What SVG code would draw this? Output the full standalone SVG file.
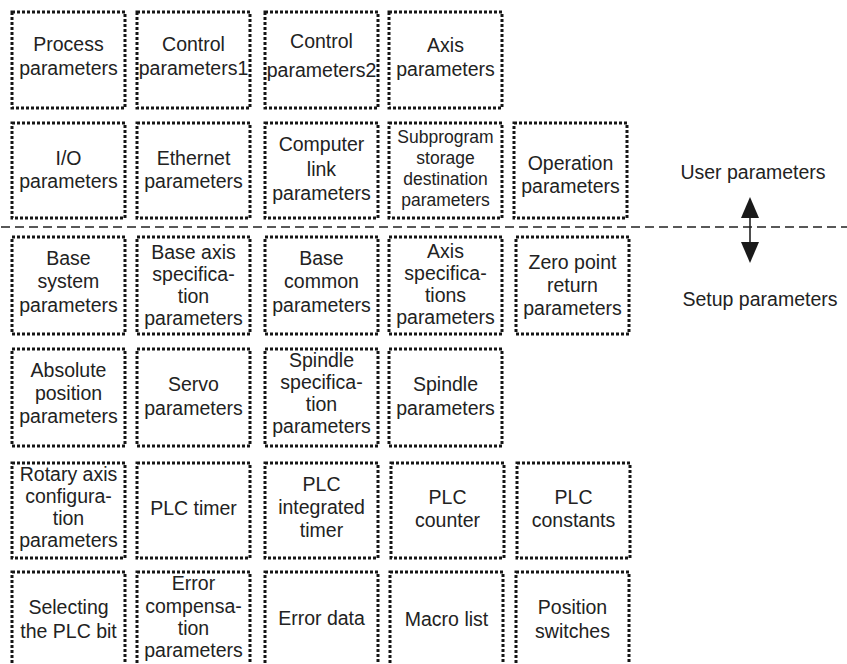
<svg xmlns="http://www.w3.org/2000/svg" width="847" height="664" viewBox="0 0 847 664">
<style>
.box{fill:#fff;stroke:#151515;stroke-width:3;stroke-dasharray:3 2}
.t{font-family:"Liberation Sans",Arial,sans-serif;font-size:19.5px;fill:#222;text-anchor:middle}
.s{font-size:17.5px}
.sep{stroke:#222;stroke-width:1.6;stroke-dasharray:9 5;fill:none}
.ax{stroke:#222;stroke-width:1.6;fill:none}
.head{fill:#1a1a1a}
</style>
<rect width="847" height="664" fill="#fff"/>
<g id="connectors">
<line class="sep" x1="1" y1="227" x2="847" y2="227"/>
<line class="ax" x1="750" y1="214" x2="750" y2="246"/>
<polygon class="head" points="750,197 741,218 759,218"/>
<polygon class="head" points="741,242 759,242 750,263"/>
</g>
<g id="user-label"><text class="t" x="753" y="179">User parameters</text></g>
<g id="setup-label"><text class="t" x="760" y="306">Setup parameters</text></g>

<g id="n-process"><rect class="box" x="12" y="12" width="113" height="96"/><text class="t" x="68.5" y="51">Process<tspan x="68.5" y="75">parameters</tspan></text></g>
<g id="n-control1"><rect class="box" x="137" y="12" width="113" height="96"/><text class="t" x="193.5" y="51">Control<tspan x="193.5" y="75">parameters1</tspan></text></g>
<g id="n-control2"><rect class="box" x="265" y="12" width="113" height="96"/><text class="t" x="321.5" y="48">Control<tspan x="321.5" y="77">parameters2</tspan></text></g>
<g id="n-axis"><rect class="box" x="389" y="12" width="113" height="96"/><text class="t" x="445.5" y="52">Axis<tspan x="445.5" y="76">parameters</tspan></text></g>

<g id="n-io"><rect class="box" x="12" y="123" width="113" height="95"/><text class="t" x="68.5" y="165">I/O<tspan x="68.5" y="188">parameters</tspan></text></g>
<g id="n-ethernet"><rect class="box" x="137" y="123" width="113" height="95"/><text class="t" x="193.5" y="165">Ethernet<tspan x="193.5" y="188">parameters</tspan></text></g>
<g id="n-computer"><rect class="box" x="265" y="123" width="113" height="95"/><text class="t" x="321.5" y="151">Computer<tspan x="321.5" y="176">link</tspan><tspan x="321.5" y="200">parameters</tspan></text></g>
<g id="n-subprogram"><rect class="box" x="389" y="123" width="113" height="95"/><text class="t s" x="445.5" y="143">Subprogram<tspan x="445.5" y="164">storage</tspan><tspan x="445.5" y="185">destination</tspan><tspan x="445.5" y="206">parameters</tspan></text></g>
<g id="n-operation"><rect class="box" x="514" y="123" width="113" height="95"/><text class="t" x="570.5" y="170">Operation<tspan x="570.5" y="193">parameters</tspan></text></g>

<g id="n-basesystem"><rect class="box" x="12" y="237" width="113" height="97"/><text class="t" x="68.5" y="265">Base<tspan x="68.5" y="288">system</tspan><tspan x="68.5" y="312">parameters</tspan></text></g>
<g id="n-baseaxis"><rect class="box" x="137" y="237" width="113" height="97"/><text class="t" x="193.5" y="259">Base axis<tspan x="193.5" y="281">specifica-</tspan><tspan x="193.5" y="303">tion</tspan><tspan x="193.5" y="325">parameters</tspan></text></g>
<g id="n-basecommon"><rect class="box" x="265" y="237" width="113" height="97"/><text class="t" x="321.5" y="265">Base<tspan x="321.5" y="288">common</tspan><tspan x="321.5" y="312">parameters</tspan></text></g>
<g id="n-axisspec"><rect class="box" x="389" y="237" width="113" height="97"/><text class="t" x="445.5" y="258">Axis<tspan x="445.5" y="280">specifica-</tspan><tspan x="445.5" y="302">tions</tspan><tspan x="445.5" y="324">parameters</tspan></text></g>
<g id="n-zeropoint"><rect class="box" x="516" y="237" width="113" height="97"/><text class="t" x="572.5" y="269">Zero point<tspan x="572.5" y="292">return</tspan><tspan x="572.5" y="315">parameters</tspan></text></g>

<g id="n-absolute"><rect class="box" x="12" y="349" width="113" height="97"/><text class="t" x="68.5" y="377">Absolute<tspan x="68.5" y="400">position</tspan><tspan x="68.5" y="423">parameters</tspan></text></g>
<g id="n-servo"><rect class="box" x="137" y="349" width="113" height="97"/><text class="t" x="193.5" y="391">Servo<tspan x="193.5" y="415">parameters</tspan></text></g>
<g id="n-spindlespec"><rect class="box" x="265" y="349" width="113" height="97"/><text class="t" x="321.5" y="367">Spindle<tspan x="321.5" y="389">specifica-</tspan><tspan x="321.5" y="411">tion</tspan><tspan x="321.5" y="433">parameters</tspan></text></g>
<g id="n-spindle"><rect class="box" x="389" y="349" width="113" height="97"/><text class="t" x="445.5" y="391">Spindle<tspan x="445.5" y="415">parameters</tspan></text></g>

<g id="n-rotary"><rect class="box" x="12" y="463" width="113" height="95"/><text class="t" x="68.5" y="481">Rotary axis<tspan x="68.5" y="503">configura-</tspan><tspan x="68.5" y="525">tion</tspan><tspan x="68.5" y="547">parameters</tspan></text></g>
<g id="n-plctimer"><rect class="box" x="137" y="463" width="113" height="95"/><text class="t" x="193.5" y="515">PLC timer</text></g>
<g id="n-plcinteg"><rect class="box" x="265" y="463" width="113" height="95"/><text class="t" x="321.5" y="491">PLC<tspan x="321.5" y="514">integrated</tspan><tspan x="321.5" y="537">timer</tspan></text></g>
<g id="n-plccounter"><rect class="box" x="391" y="463" width="113" height="95"/><text class="t" x="447.5" y="504">PLC<tspan x="447.5" y="527">counter</tspan></text></g>
<g id="n-plcconst"><rect class="box" x="517" y="463" width="113" height="95"/><text class="t" x="573.5" y="504">PLC<tspan x="573.5" y="527">constants</tspan></text></g>

<g id="n-selecting"><rect class="box" x="12" y="572" width="113" height="100"/><text class="t" x="68.5" y="614">Selecting<tspan x="68.5" y="638">the PLC bit</tspan></text></g>
<g id="n-errorcomp"><rect class="box" x="137" y="572" width="113" height="100"/><text class="t" x="193.5" y="590">Error<tspan x="193.5" y="613">compensa-</tspan><tspan x="193.5" y="635">tion</tspan><tspan x="193.5" y="657">parameters</tspan></text></g>
<g id="n-errordata"><rect class="box" x="265" y="572" width="113" height="100"/><text class="t" x="321.5" y="625">Error data</text></g>
<g id="n-macro"><rect class="box" x="390" y="572" width="113" height="100"/><text class="t" x="446.5" y="626">Macro list</text></g>
<g id="n-position"><rect class="box" x="516" y="572" width="113" height="100"/><text class="t" x="572.5" y="614">Position<tspan x="572.5" y="638">switches</tspan></text></g>
</svg>
